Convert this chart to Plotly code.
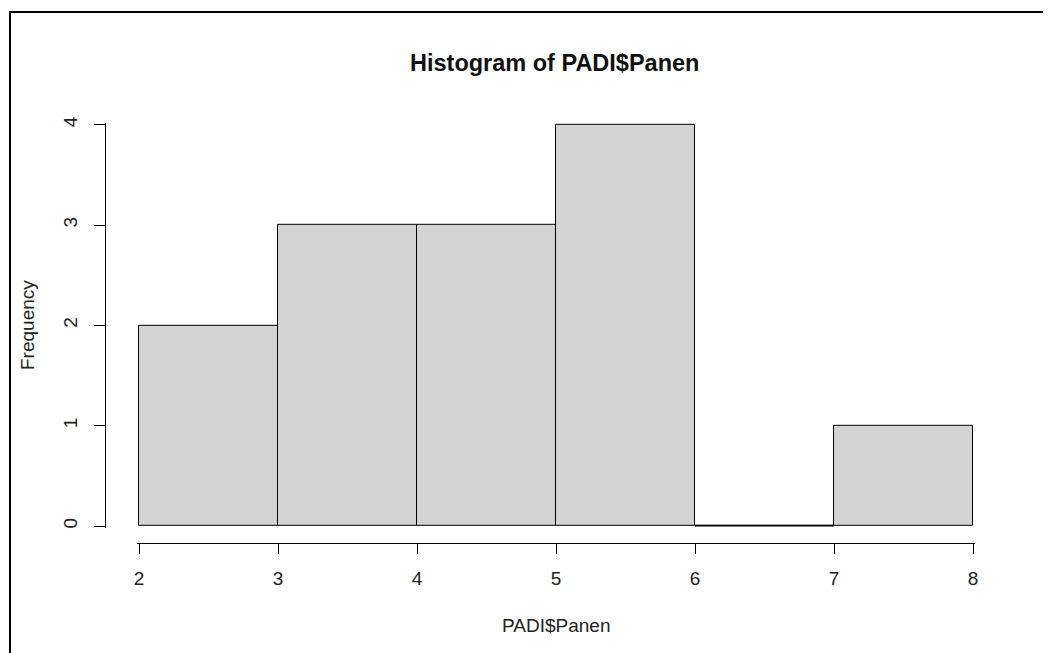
import plotly.graph_objects as go

# Data
bin_edges = [2, 3, 4, 5, 6, 7, 8]
counts = [2, 3, 3, 4, 0, 1]
x_ticks = [2, 3, 4, 5, 6, 7, 8]
y_ticks = [0, 1, 2, 3, 4]
title_text = "Histogram of PADI$Panen"
x_label = "PADI$Panen"
y_label = "Frequency"

OFF = 8  # page body margin in the browser
W, H = 1051 - OFF, 653 - OFF
FONT = "Liberation Sans, Arial, Helvetica, sans-serif"


def px(x):
    return (x - OFF) / W


def py(y):
    return 1 - (y - OFF) / H


centers = [(bin_edges[i] + bin_edges[i + 1]) / 2 for i in range(len(counts))]
widths = [bin_edges[i + 1] - bin_edges[i] for i in range(len(counts))]

# zero-count bins drawn as flat lines like R
zx, zy = [], []
for i, c in enumerate(counts):
    if c == 0:
        zx += [bin_edges[i], bin_edges[i + 1], None]
        zy += [0, 0, None]

fig = go.Figure()
fig.add_trace(go.Bar(
    x=centers, y=counts, width=widths,
    marker=dict(color="#D3D3D3", line=dict(color="black", width=1)),
    hoverinfo="x+y", showlegend=False,
))
if zx:
    fig.add_trace(go.Scatter(
        x=zx, y=zy, mode="lines", line=dict(color="black", width=1),
        hoverinfo="skip", showlegend=False,
    ))

xpp = 139.0   # pixels per x unit
ypp = 100.3   # pixels per y unit
pad = 2

fig.update_layout(
    width=W, height=H, autosize=False,
    margin=dict(l=0, r=0, t=0, b=0, pad=0),
    paper_bgcolor="white", plot_bgcolor="white",
    font=dict(family=FONT, color="#222222", size=19),
    bargap=0,
    xaxis=dict(
        domain=[px(139 - pad), px(973 + pad)],
        range=[x_ticks[0] - pad / xpp, x_ticks[-1] + pad / xpp],
        anchor="free", position=py(543),
        showline=True, linecolor="black", linewidth=1,
        ticks="outside", ticklen=10, tickwidth=1, tickcolor="black",
        tickvals=x_ticks, ticktext=[str(v) for v in x_ticks],
        tickfont=dict(size=19, family=FONT, color="#222222"),
        ticklabelstandoff=8,
        showgrid=False, zeroline=False, automargin=False, fixedrange=True,
    ),
    yaxis=dict(
        domain=[py(526 + pad), py(526 - 4 * ypp - pad)],
        range=[0 - pad / ypp, 4 + pad / ypp],
        anchor="free", position=px(105),
        showline=True, linecolor="black", linewidth=1,
        ticks="outside", ticklen=11, tickwidth=1, tickcolor="black",
        tickvals=y_ticks, ticktext=[str(v) for v in y_ticks],
        tickangle=-90,
        tickfont=dict(size=19, family=FONT, color="#222222"),
        ticklabelstandoff=9,
        showgrid=False, zeroline=False, automargin=False, fixedrange=True,
    ),
    shapes=[dict(
        type="rect", xref="paper", yref="paper",
        x0=px(10), x1=1.05, y0=-0.05, y1=py(12),
        line=dict(color="black", width=2), fillcolor="rgba(0,0,0,0)",
        layer="above",
    )],
    annotations=[
        dict(text="<b>" + title_text + "</b>", xref="paper", yref="paper",
             x=px(554), y=py(63), showarrow=False, xanchor="center", yanchor="middle",
             font=dict(size=23.5, family=FONT, color="#111111")),
        dict(text=x_label, xref="paper", yref="paper",
             x=px(556), y=py(625), showarrow=False, xanchor="center", yanchor="middle",
             font=dict(size=19, family=FONT, color="#222222")),
        dict(text=y_label, xref="paper", yref="paper",
             x=px(27), y=py(325), showarrow=False, xanchor="center", yanchor="middle",
             textangle=-90,
             font=dict(size=19, family=FONT, color="#222222")),
    ],
)

fig.write_html("out.html")
